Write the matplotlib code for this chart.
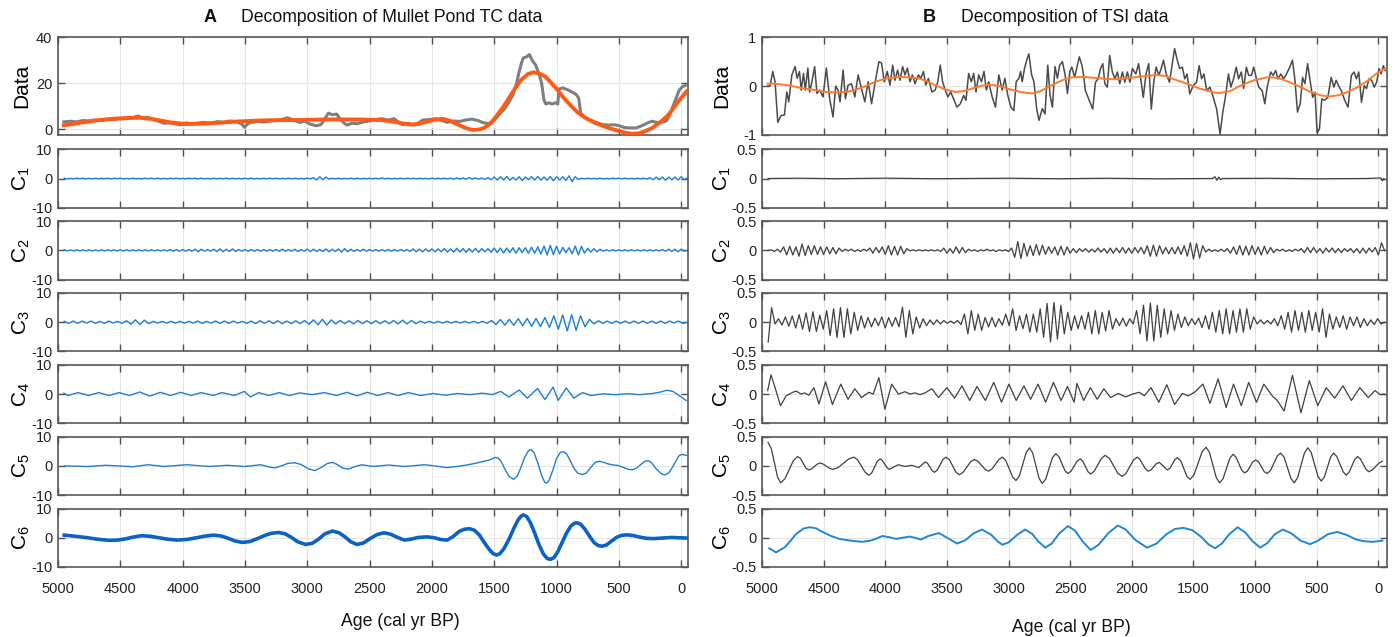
import numpy as np
import matplotlib
matplotlib.use("Agg")
import matplotlib.pyplot as plt

plt.rcParams['font.family'] = ['Liberation Sans', 'DejaVu Sans']
plt.rcParams['mathtext.default'] = 'regular'
plt.rcParams['axes.unicode_minus'] = False

# ---------------- panel A : Mullet Pond TC ----------------
a_data = [(4953, 3.2), (4900, 3.5), (4850, 3.2), (4800, 3.8), (4750, 3.6), (4706, 4.0), (4650, 3.8),
          (4600, 4.3), (4550, 4.2), (4509, 4.5), (4450, 4.6), (4400, 5.0), (4360, 5.8), (4320, 4.8),
          (4280, 5.2), (4245, 4.5), (4200, 3.6), (4147, 2.6), (4100, 2.8), (4050, 2.2), (4015, 2.0),
          (3970, 2.8), (3930, 2.3), (3883, 2.6), (3830, 3.0), (3780, 2.6), (3719, 3.3), (3670, 3.0),
          (3620, 3.6), (3560, 3.2), (3520, 2.0), (3505, 0.9), (3480, 2.2), (3455, 3.0), (3400, 3.4),
          (3350, 3.1), (3291, 3.6), (3240, 3.9), (3200, 4.3), (3160, 5.0), (3110, 4.0), (3061, 3.0),
          (3020, 3.5), (2980, 2.3), (2929, 1.5), (2890, 2.0), (2860, 4.5), (2830, 7.0), (2800, 6.3),
          (2764, 6.6), (2730, 4.0), (2700, 2.5), (2682, 1.8), (2640, 2.6), (2600, 2.4), (2550, 3.2),
          (2501, 3.6), (2450, 4.2), (2402, 4.6), (2350, 4.0), (2304, 4.6), (2270, 3.2), (2238, 2.0),
          (2190, 2.6), (2139, 1.8), (2100, 3.0), (2073, 4.0), (2020, 4.2), (1975, 4.6), (1930, 4.0),
          (1876, 3.0), (1830, 3.6), (1777, 3.4), (1730, 4.0), (1678, 4.4), (1630, 3.8), (1596, 3.0),
          (1547, 2.4), (1510, 3.5), (1481, 5.0), (1450, 7.0), (1415, 9.0), (1380, 12.0), (1349, 15.0),
          (1320, 20.0), (1300, 25.0), (1280, 29.0), (1267, 31.0), (1240, 31.5), (1218, 32.5),
          (1195, 30.0), (1168, 28.0), (1140, 24.0), (1119, 20.0), (1102, 13.0), (1086, 11.0),
          (1060, 11.5), (1037, 11.0), (1010, 11.5), (990, 11.0), (980, 17.5), (950, 18.0), (905, 17.0),
          (870, 16.0), (840, 15.0), (822, 13.5), (806, 7.0), (770, 5.0), (724, 4.0), (680, 2.8),
          (625, 2.0), (580, 1.8), (540, 2.0), (494, 1.5), (460, 0.8), (428, 0.6), (362, 0.6),
          (330, 1.2), (296, 2.0), (260, 3.0), (230, 3.5), (200, 3.0), (165, 3.0), (140, 3.2),
          (115, 3.8), (90, 6.5), (66, 10.0), (40, 13.5), (16, 17.0), (-10, 18.5), (-33, 19.0)]

a_trend = [(4953, 1.7), (4850, 2.6), (4750, 3.4), (4650, 4.1), (4550, 4.6), (4450, 4.9), (4344, 5.0),
           (4250, 4.5), (4180, 3.8), (4100, 3.0), (3982, 2.3), (3850, 2.4), (3719, 2.8), (3550, 3.4),
           (3390, 3.8), (3200, 4.0), (3061, 4.0), (2900, 4.2), (2731, 4.3), (2550, 4.2), (2402, 4.0),
           (2300, 3.2), (2172, 2.0), (2100, 2.4), (2040, 3.3), (1960, 4.3), (1909, 4.5), (1860, 3.8),
           (1810, 2.5), (1740, 0.8), (1700, 0.0), (1662, -0.3), (1620, -0.1), (1580, 0.6), (1530, 2.5),
           (1481, 5.8), (1430, 9.5), (1382, 13.5), (1330, 18.0), (1283, 21.5), (1230, 24.0),
           (1185, 24.8), (1140, 24.3), (1086, 22.8), (1040, 20.0), (987, 16.8), (940, 13.5),
           (889, 10.5), (830, 7.3), (757, 4.6), (690, 2.8), (625, 1.4), (560, 0.2), (494, -0.8),
           (440, -1.6), (395, -2.0), (340, -1.8), (296, -1.0), (240, 0.3), (165, 3.2), (110, 5.8),
           (66, 8.8), (20, 12.3), (-45, 16.5)]

# C1..C3 read every 25 / 35 yr from 4950 to -50 BP
a_c1 = [0.1, -0.1, 0.05, -0.1, 0.1, -0.05, 0.1, -0.1, 0.05, -0.1, 0.1, -0.1, 0.05, -0.05, 0.1, -0.1, 0.1, -0.05, 0.1, -0.1,
        0.05, -0.1, 0.1, -0.1, 0.05, -0.1, 0.1, -0.05, 0.1, -0.1, 0.1, -0.1, 0.05, -0.1, 0.1, -0.05, 0.1, -0.1, 0.05, -0.1,
        0.1, -0.05, 0.1, -0.1, 0.1, -0.1, 0.05, -0.1, 0.1, -0.1, 0.05, -0.05, 0.1, -0.1, 0.1, -0.1, 0.05, -0.1, 0.1, -0.1,
        0.1, -0.1, 0.05, -0.1, 0.1, -0.1, 0.1, -0.05, 0.1, -0.1, 0.05, -0.1, 0.1, -0.1, 0.1, -0.1, 0.05, -0.1, 0.1, -0.1,
        0.3, -0.5, 0.6, -0.4, 0.5, -0.2, 0.1, -0.1, 0.1, -0.1, 0.05, -0.1, 0.1, -0.1, 0.1, -0.1, 0.05, -0.1, 0.1, -0.1,
        0.1, -0.1, 0.2, -0.1, 0.1, -0.1, 0.05, -0.1, 0.1, -0.1, 0.1, -0.05, 0.1, -0.1, 0.1, -0.1, 0.05, -0.1, 0.1, -0.1,
        0.1, -0.1, 0.1, -0.1, 0.1, -0.2, 0.2, -0.2, 0.2, -0.2, 0.3, -0.2, 0.2, -0.2, 0.2, -0.3, 0.3, -0.4, 0.5, -0.5,
        0.6, -0.5, 0.7, -0.6, 0.4, -0.5, 0.6, -0.7, 0.5, -0.4, 0.6, -0.5, 0.7, -0.6, 0.5, -0.6, 0.7, -0.8, 0.6, -0.5,
        0.6, -0.7, 0.9, -1.1, 0.6, -0.3, 0.1, -0.1, 0.1, -0.1, 0.05, -0.1, 0.1, -0.1, 0.05, -0.1, 0.1, -0.05, 0.1, -0.1,
        0.1, -0.1, 0.05, -0.1, 0.1, -0.1, 0.1, -0.2, 0.3, -0.4, 0.5, -0.4, 0.5, -0.6, 0.5, -0.4, 0.5, -0.5, 0.6, -0.4,
        0.2]

a_c2 = [0.2, -0.2, 0.15, -0.2, 0.2, -0.15, 0.2, -0.2, 0.2, -0.2, 0.15, -0.2, 0.2, -0.2, 0.2, -0.15, 0.2, -0.2, 0.2, -0.2,
        0.2, -0.2, 0.2, -0.15, 0.2, -0.2, 0.2, -0.2, 0.2, -0.2, 0.2, -0.2, 0.2, -0.2, 0.3, -0.3, 0.3, -0.3, 0.3, -0.3,
        0.3, -0.3, 0.4, -0.5, 0.4, -0.3, 0.3, -0.3, 0.4, -0.4, 0.5, -0.5, 0.4, -0.4, 0.5, -0.4, 0.3, -0.3, 0.3, -0.3,
        0.3, -0.3, 0.3, -0.3, 0.3, -0.3, 0.3, -0.3, 0.3, -0.3, 0.4, -0.3, 0.3, -0.3, 0.4, -0.4, 0.3, -0.3, 0.4, -0.4,
        0.4, -0.4, 0.3, -0.4, 0.5, -0.5, 0.4, -0.4, 0.5, -0.6, 0.6, -0.5, 0.4, -0.4, 0.3, -0.3, 0.4, -0.3, 0.3, -0.3,
        0.3, -0.3, 0.3, -0.3, 0.3, -0.3, 0.3, -0.3, 0.3, -0.3, 0.3, -0.4, 0.5, -0.5, 0.4, -0.5, 0.5, -0.4, 0.5, -0.5,
        0.5, -0.5, 0.6, -0.6, 0.5, -0.6, 0.7, -0.6, 0.6, -0.7, 0.6, -0.6, 0.7, -0.7, 0.6, -0.5, 0.6, -0.7, 0.8, -0.8,
        0.8, -0.9, 0.8, -0.8, 0.9, -1.0, 0.9, -0.8, 0.9, -1.0, 1.1, -1.0, 1.2, -1.3, 1.5, -1.6, 1.7, -1.5, 1.4, -1.2,
        1.0, -0.8, 0.9, -1.2, 1.5, -1.6, 1.4, -1.0, 0.7, -0.6, 0.6, -0.5, 0.4, -0.3, 0.2, -0.2, 0.2, -0.2, 0.2, -0.2,
        0.2, -0.2, 0.2, -0.2, 0.2, -0.2, 0.2, -0.2, 0.2, -0.2, 0.2, -0.2, 0.3, -0.3, 0.4, -0.4, 0.4, -0.5, 0.4, -0.3,
        0.0]

a_c3 = [0.3, -0.4, 0.4, -0.4, 0.4, -0.3, 0.4, -0.4, 0.3, -0.4, 0.4, -0.3, 0.3, -0.4,
        0.5, -0.7, 0.8, -0.8, 0.7, -0.5, 0.3, -0.3, 0.3, -0.3, 0.3, -0.3, 0.3, -0.3,
        0.3, -0.3, 0.4, -0.4, 0.3, -0.3, 0.4, -0.4, 0.4, -0.4, 0.4, -0.3, 0.3, -0.4,
        0.4, -0.5, 0.5, -0.4, 0.5, -0.5, 0.5, -0.5, 0.4, -0.5, 0.5, -0.5, 0.6, -0.7,
        0.8, -0.9, 1.0, -1.0, 0.8, -0.6, 0.6, -0.5, 0.5, -0.6, 0.6, -0.5, 0.5, -0.5,
        0.5, -0.5, 0.5, -0.5, 0.6, -0.6, 0.7, -0.6, 0.6, -0.5, 0.4, -0.3, 0.3, -0.3,
        0.3, -0.3, 0.3, -0.3, 0.3, -0.3, 0.3, -0.3, 0.3, -0.3, 0.3, -0.4, 0.6, -0.8,
        0.9, -1.0, 1.0, -1.1, 1.2, -1.2, 1.3, -1.4, 1.3, -1.5, 1.6, -1.8, 2.2, -2.4,
        2.5, -3.0, 2.6, -2.8, 2.2, -1.6, 1.0, -0.6, 0.5, -0.4, 0.4, -0.4, 0.4, -0.4,
        0.4, -0.4, 0.4, -0.4, 0.4, -0.4, 0.4, -0.4, 0.4, -0.4, 0.4, -0.3, 0.4, -0.4,
        0.0]

a_c4 = [(4953, 0.3), (4920, -0.5), (4838, 0.5), (4755, -0.5), (4673, 0.5), (4591, -0.5), (4509, 0.5),
        (4427, -0.5), (4344, 0.7), (4262, -0.7), (4180, 0.6), (4098, -0.5), (4015, 0.6), (3933, -0.5),
        (3851, 0.5), (3752, -0.5), (3686, 0.5), (3587, -0.5), (3505, 0.9), (3455, -1.0), (3390, 0.5),
        (3308, -0.5), (3225, 0.5), (3143, -0.5), (3061, 0.4), (2962, -0.2), (2863, 0.5), (2764, -0.5),
        (2682, 0.6), (2600, -0.6), (2518, 0.6), (2435, -0.5), (2353, 0.5), (2271, -0.5), (2188, 0.5),
        (2090, -0.5), (1991, 0.2), (1892, -0.4), (1794, 0.2), (1695, -0.2), (1596, 0.3), (1514, -0.2),
        (1448, 0.9), (1382, -1.0), (1300, 1.4), (1234, -1.4), (1152, 1.9), (1093, -1.9), (1027, 2.4),
        (987, -2.2), (922, 2.1), (862, -1.4), (790, 0.5), (724, -0.5), (625, 0.1), (527, -0.2),
        (428, 0.1), (329, -0.2), (230, 0.2), (165, 0.7), (115, 1.3), (66, 0.9), (16, -0.5), (-40, -2.2)]

a_c5 = [(4950, 0.0), (4762, -0.2), (4618, 0.2), (4510, 0.0), (4402, -0.3), (4276, 0.4), (4149, -0.2),
        (3969, 0.4), (3789, -0.2), (3645, 0.2), (3500, -0.2), (3374, 0.4), (3320, -0.2), (3266, -0.7),
        (3220, -0.2), (3160, 0.8), (3104, 1.1), (3050, 0.5), (2990, -1.0), (2942, -1.6), (2890, -0.6),
        (2840, 0.8), (2798, 1.2), (2760, 0.5), (2715, -0.8), (2671, -1.1), (2620, -0.3), (2563, 0.4),
        (2473, -0.2), (2347, 0.3), (2221, -0.2), (2058, 0.4), (1960, -0.1), (1878, -0.6), (1800, -0.2),
        (1734, 0.2), (1660, 0.8), (1600, 1.4), (1540, 2.0), (1490, 2.9), (1465, 2.6), (1440, 1.2),
        (1410, -1.5), (1380, -3.6), (1345, -4.6), (1315, -3.5), (1285, -0.5), (1255, 3.0), (1225, 5.2),
        (1205, 5.6), (1180, 4.5), (1150, 1.0), (1120, -3.2), (1095, -5.6), (1080, -5.9), (1060, -5.0),
        (1030, -1.5), (1000, 2.5), (970, 4.6), (945, 4.9), (920, 4.2), (890, 1.8), (860, -0.8),
        (830, -2.5), (790, -3.0), (760, -2.4), (720, -0.3), (690, 1.2), (655, 1.6), (620, 1.2),
        (580, 0.6), (540, 0.3), (500, 0.1), (460, -0.6), (420, -1.2), (390, -1.3), (360, -0.8),
        (320, 0.6), (290, 1.6), (265, 1.8), (240, 1.2), (200, -1.0), (160, -2.7), (130, -3.1),
        (100, -2.4), (70, -0.5), (40, 1.8), (15, 3.6), (-10, 3.9), (-43, 3.6)]

a_c6 = [(4950, 0.9), (4880, 0.6), (4820, 0.3), (4762, 0.0), (4700, -0.4), (4640, -0.7), (4582, -0.9),
        (4520, -0.8), (4460, -0.4), (4400, 0.2), (4330, 0.7), (4260, 0.5), (4190, 0.0), (4120, -0.5),
        (4042, -0.8), (3970, -0.6), (3900, -0.1), (3830, 0.5), (3753, 0.9), (3690, 0.6), (3640, -0.1),
        (3580, -1.1), (3519, -1.6), (3460, -1.3), (3400, -0.3), (3340, 0.8), (3290, 1.5), (3231, 1.8),
        (3180, 1.4), (3130, 0.2), (3075, -1.4), (3014, -2.3), (2960, -1.9), (2910, -0.5), (2860, 1.3),
        (2798, 2.3), (2745, 1.7), (2700, 0.4), (2650, -1.4), (2600, -2.3), (2550, -1.8), (2500, -0.4),
        (2440, 1.1), (2383, 1.7), (2330, 1.2), (2275, 0.1), (2221, -0.8), (2170, -0.5), (2110, 0.1),
        (2040, 0.3), (1980, 0.0), (1930, -0.6), (1878, -0.8), (1830, 0.4), (1780, 2.2), (1740, 2.9),
        (1698, 3.1), (1660, 2.6), (1620, 1.0), (1580, -1.6), (1540, -4.0), (1510, -5.4), (1482, -5.9),
        (1455, -5.5), (1420, -3.6), (1380, -0.4), (1345, 3.0), (1310, 6.0), (1285, 7.4), (1265, 7.8),
        (1240, 7.3), (1210, 5.2), (1175, 1.6), (1140, -2.4), (1105, -5.6), (1075, -7.1), (1049, -7.4),
        (1020, -6.8), (990, -4.8), (955, -1.6), (920, 1.6), (885, 4.0), (855, 5.0), (833, 5.1),
        (805, 4.6), (770, 2.8), (735, 0.5), (700, -1.6), (665, -2.7), (634, -2.9), (600, -2.5),
        (560, -1.2), (520, 0.1), (480, 0.8), (436, 1.0), (390, 0.8), (340, 0.3), (280, -0.2),
        (220, -0.3), (150, -0.1), (76, 0.1), (20, 0.0), (-43, -0.1)]

# ---------------- panel B : TSI ----------------
b_data = [(4954, 0.0), (4935, 0.0), (4913, 0.30), (4894, 0.09), (4872, -0.74), (4845, -0.60), (4818, -0.59),
          (4799, -0.12), (4783, -0.32), (4758, 0.23), (4731, 0.40), (4715, 0.16), (4696, 0.30), (4682, -0.08),
          (4663, 0.26), (4649, -0.08), (4628, 0.37), (4614, -0.12), (4595, 0.09), (4573, 0.40), (4554, -0.15),
          (4533, -0.08), (4505, -0.22), (4478, 0.37), (4451, -0.26), (4424, -0.63), (4402, 0.0), (4383, -0.08),
          (4367, -0.32), (4342, 0.33), (4323, -0.26), (4302, 0.02), (4274, 0.05), (4247, -0.22), (4220, 0.23),
          (4193, -0.05), (4166, -0.32), (4139, 0.09), (4111, -0.36), (4084, 0.05), (4052, 0.50), (4030, 0.47),
          (4008, 0.09), (3984, 0.30), (3962, 0.02), (3940, 0.43), (3921, 0.12), (3900, 0.33), (3881, 0.12),
          (3859, 0.40), (3840, 0.23), (3821, 0.37), (3799, 0.09), (3780, 0.23), (3758, 0.05), (3731, 0.23),
          (3712, 0.16), (3690, 0.30), (3671, 0.02), (3650, 0.16), (3622, -0.12), (3595, -0.08), (3574, 0.09),
          (3554, 0.43), (3535, 0.09), (3514, -0.08), (3492, -0.22), (3470, -0.12), (3446, -0.26), (3419, -0.43),
          (3391, -0.36), (3364, -0.19), (3345, -0.29), (3324, 0.26), (3302, 0.09), (3283, 0.26), (3264, -0.12),
          (3242, 0.23), (3220, 0.09), (3199, 0.30), (3180, -0.08), (3161, 0.09), (3133, -0.22), (3106, -0.43),
          (3079, 0.23), (3052, -0.08), (3030, 0.16), (3006, -0.19), (2981, -0.43), (2957, -0.50), (2938, 0.09),
          (2916, 0.16), (2902, 0.30), (2889, 0.09), (2870, 0.37), (2848, 0.57), (2835, 0.66), (2813, 0.23),
          (2794, 0.09), (2772, -0.46), (2753, -0.70), (2726, -0.46), (2704, -0.57), (2682, 0.43), (2663, -0.19),
          (2644, -0.43), (2623, 0.40), (2604, 0.16), (2585, 0.43), (2563, 0.50), (2541, 0.23), (2522, -0.15),
          (2503, 0.30), (2486, 0.39), (2464, 0.18), (2445, 0.39), (2426, 0.60), (2404, 0.42), (2391, 0.22),
          (2377, -0.09), (2350, -0.26), (2317, -0.47), (2295, 0.08), (2273, 0.15), (2254, 0.36), (2235, 0.46),
          (2219, 0.05), (2199, -0.02), (2180, 0.63), (2158, 0.29), (2137, 0.15), (2117, 0.29), (2098, 0.05),
          (2076, 0.29), (2057, 0.08), (2036, 0.29), (2016, 0.08), (1995, 0.36), (1967, 0.25), (1945, 0.46),
          (1926, 0.12), (1907, -0.23), (1885, 0.25), (1863, 0.46), (1842, -0.47), (1822, 0.08), (1803, 0.39),
          (1781, 0.22), (1762, 0.36), (1743, 0.53), (1721, 0.25), (1694, 0.08), (1672, 0.46), (1653, 0.77),
          (1634, 0.56), (1612, 0.36), (1590, 0.39), (1571, 0.15), (1552, 0.25), (1530, -0.16), (1503, 0.01),
          (1475, 0.08), (1454, 0.42), (1434, 0.15), (1415, 0.25), (1393, -0.09), (1366, -0.02), (1339, -0.23),
          (1312, -0.47), (1284, -0.98), (1262, -0.53), (1243, -0.26), (1216, 0.25), (1197, -0.02), (1175, 0.15),
          (1153, 0.39), (1134, 0.15), (1112, 0.29), (1093, -0.05), (1071, 0.39), (1052, 0.22), (1030, 0.22),
          (1011, 0.39), (989, 0.15), (970, -0.02), (943, -0.09), (921, -0.36), (902, -0.02), (874, 0.29),
          (853, 0.22), (833, 0.32), (814, 0.15), (792, 0.25), (770, 0.15), (751, 0.22), (724, 0.36),
          (697, 0.53), (678, 0.15), (656, -0.53), (634, -0.36), (615, 0.18), (596, 0.05), (574, 0.46),
          (552, 0.08), (533, -0.23), (514, -0.12), (497, -0.95), (478, -0.88), (459, -0.26), (437, -0.29),
          (410, -0.23), (383, 0.18), (361, -0.02), (342, 0.12), (323, 0.01), (301, -0.09), (273, -0.29),
          (246, -0.43), (219, 0.22), (197, 0.29), (178, 0.15), (159, 0.29), (137, -0.33), (115, 0.01),
          (96, -0.05), (77, 0.15), (55, 0.12), (33, -0.02), (14, 0.08), (-5, 0.36), (-22, 0.25),
          (-41, 0.42), (-54, 0.32)]

b_trend = [(4954, 0.05), (4900, 0.05), (4791, 0.02), (4700, -0.03), (4573, -0.08), (4480, -0.12), (4383, -0.13),
           (4300, -0.11), (4247, -0.08), (4160, 0.0), (4084, 0.09), (4000, 0.15), (3894, 0.19), (3800, 0.18),
           (3731, 0.16), (3660, 0.10), (3595, 0.02), (3510, -0.07), (3432, -0.12), (3360, -0.10), (3296, -0.05),
           (3220, 0.01), (3147, 0.03), (3070, 0.0), (2997, -0.06), (2900, -0.12), (2807, -0.15), (2740, -0.10),
           (2671, -0.01), (2600, 0.08), (2536, 0.15), (2486, 0.18), (2400, 0.19), (2300, 0.17), (2213, 0.15),
           (2140, 0.14), (2076, 0.15), (1950, 0.19), (1803, 0.23), (1730, 0.21), (1667, 0.15), (1600, 0.09),
           (1530, 0.03), (1460, -0.04), (1393, -0.09), (1330, -0.13), (1284, -0.14), (1200, -0.10),
           (1120, 0.01), (1010, 0.12), (902, 0.18), (850, 0.18), (792, 0.15), (710, 0.07), (629, -0.02),
           (550, -0.12), (465, -0.19), (400, -0.21), (328, -0.19), (260, -0.13), (191, -0.05), (130, 0.04),
           (82, 0.12), (20, 0.25), (-54, 0.36)]

b_c1 = [(4950, 0.0), (4700, 0.005), (4400, -0.004), (4000, 0.006), (3600, -0.004), (3000, 0.005),
        (2600, -0.004), (2200, 0.004), (1800, -0.005), (1345, 0.0), (1325, 0.03), (1310, -0.03),
        (1295, 0.025), (1280, -0.02), (1265, 0.0), (900, 0.004), (500, -0.005), (100, 0.0),
        (-20, 0.01), (-33, -0.04), (-45, 0.0)]

# C2, C3 read every 25 / ~28 yr from 4950 to -50 BP
b_c2 = [0.0, 0.01, -0.02, 0.02, -0.03, 0.06, -0.08, 0.07, -0.08, 0.06, -0.1, 0.11, -0.09, 0.08, -0.07, 0.08, -0.07, 0.06, -0.07, 0.06,
        -0.06, 0.05, -0.06, 0.04, -0.02, 0.02, -0.01, 0.02, -0.02, 0.01, -0.02, 0.02, -0.01, 0.04, -0.05, 0.05, -0.04, 0.06, -0.07, 0.08,
        -0.08, 0.07, -0.08, 0.07, -0.06, 0.03, -0.01, 0.01, -0.01, 0.01, -0.01, 0.01, -0.01, 0.01, -0.01, 0.01, -0.02, 0.04, -0.05, 0.03,
        -0.05, 0.06, -0.05, 0.05, -0.04, 0.02, -0.01, 0.01, -0.02, 0.01, -0.01, 0.02, -0.01, 0.01, -0.02, 0.01, -0.01, 0.01, -0.02, 0.04,
        -0.12, 0.15, -0.14, 0.12, -0.1, 0.08, -0.09, 0.1, -0.08, 0.09, -0.07, 0.06, -0.05, 0.06, -0.08, 0.07, -0.08, 0.06, -0.05, 0.03,
        -0.04, 0.03, -0.02, 0.03, -0.03, 0.02, -0.03, 0.04, -0.03, 0.03, -0.05, 0.04, -0.05, 0.04, -0.04, 0.05, -0.05, 0.04, -0.05, 0.05,
        -0.04, 0.05, -0.06, 0.08, -0.1, 0.09, -0.1, 0.08, -0.06, 0.05, -0.06, 0.05, -0.06, 0.06, -0.07, 0.08, -0.1, 0.13, -0.15, 0.12,
        -0.13, 0.08, -0.03, 0.02, -0.02, 0.01, -0.02, 0.02, -0.02, 0.03, -0.05, 0.06, -0.07, 0.08, -0.08, 0.07, -0.08, 0.08, -0.07, 0.06,
        -0.08, 0.07, -0.06, 0.05, -0.04, 0.02, -0.01, 0.02, -0.02, 0.01, -0.02, 0.02, -0.01, 0.03, -0.04, 0.05, -0.04, 0.05, -0.04, 0.03,
        -0.05, 0.04, -0.03, 0.04, -0.04, 0.03, -0.04, 0.03, -0.02, 0.03, -0.04, 0.03, -0.05, 0.04, -0.05, 0.04, -0.03, 0.05, -0.08, 0.13,
        0.0]

b_c3 = [-0.34, 0.25, -0.03, 0.06, -0.05, 0.09, -0.07, 0.11, -0.1, 0.13, -0.12, 0.16, -0.16, 0.18, -0.16, 0.12, -0.12, 0.2,
        -0.23, 0.23, -0.26, 0.25, -0.26, 0.23, -0.2, 0.17, -0.14, 0.11, -0.1, 0.08, -0.08, 0.07, -0.06, 0.09, -0.1, 0.08,
        -0.07, 0.08, -0.08, 0.26, -0.26, 0.2, -0.2, 0.09, -0.1, 0.06, -0.06, 0.04, -0.04, 0.04, -0.03, 0.03, -0.02, 0.02,
        -0.02, 0.03, -0.04, 0.14, -0.2, 0.2, -0.14, 0.14, -0.14, 0.08, -0.08, 0.08, -0.08, 0.06, -0.05, 0.14, -0.06, 0.23,
        -0.14, 0.11, -0.11, 0.14, -0.17, 0.14, -0.17, 0.23, -0.26, 0.32, -0.34, 0.34, -0.29, 0.29, -0.2, 0.17, -0.14, 0.11,
        -0.11, 0.11, -0.12, 0.17, -0.2, 0.2, -0.2, 0.17, -0.15, 0.2, -0.12, 0.06, -0.06, 0.07, -0.07, 0.06, -0.03, 0.2,
        -0.2, 0.29, -0.32, 0.33, -0.32, 0.29, -0.26, 0.23, -0.2, 0.2, -0.14, 0.14, -0.09, 0.09, -0.06, 0.06, -0.04, 0.07,
        -0.09, 0.11, -0.12, 0.17, -0.17, 0.2, -0.2, 0.23, -0.2, 0.2, -0.17, 0.23, -0.17, 0.23, -0.12, 0.09, -0.03, 0.04,
        -0.03, 0.03, -0.03, 0.06, -0.06, 0.11, -0.12, 0.17, -0.17, 0.2, -0.14, 0.17, -0.17, 0.2, -0.14, 0.17, -0.17, 0.23,
        -0.26, 0.14, -0.12, 0.09, -0.09, 0.11, -0.12, 0.09, -0.06, 0.09, -0.09, 0.06, -0.06, 0.04, -0.04, 0.06, -0.03, 0.0]

b_c4 = [(4954, 0.06), (4927, 0.33), (4894, 0.11), (4850, -0.20), (4804, -0.03), (4750, 0.03), (4723, 0.05),
        (4682, 0.0), (4655, 0.02), (4620, -0.02), (4579, 0.11), (4538, -0.17), (4484, 0.21), (4429, -0.18),
        (4361, 0.17), (4302, -0.09), (4247, 0.09), (4193, -0.06), (4133, 0.03), (4098, 0.0), (4052, 0.28),
        (4003, -0.26), (3948, 0.17), (3894, 0.0), (3840, 0.04), (3799, 0.0), (3758, 0.02), (3718, -0.01),
        (3677, 0.02), (3622, 0.09), (3568, -0.06), (3500, 0.11), (3438, -0.07), (3378, 0.14), (3315, -0.11),
        (3256, 0.13), (3188, -0.11), (3120, 0.20), (3057, -0.14), (2997, 0.17), (2938, -0.11), (2875, 0.14),
        (2821, -0.09), (2761, 0.17), (2699, -0.14), (2636, 0.20), (2574, -0.11), (2522, 0.13), (2468, -0.14),
        (2445, 0.18), (2391, -0.11), (2336, 0.11), (2281, -0.09), (2227, 0.09), (2172, -0.06), (2109, 0.01),
        (2049, -0.05), (1995, 0.0), (1940, 0.03), (1899, -0.03), (1844, 0.11), (1781, -0.14), (1716, 0.16),
        (1653, -0.18), (1590, 0.01), (1544, -0.03), (1492, 0.03), (1423, 0.17), (1366, -0.16), (1300, 0.26),
        (1235, -0.23), (1175, 0.17), (1112, -0.20), (1052, 0.20), (989, -0.14), (929, 0.17), (861, -0.03),
        (820, -0.11), (765, -0.29), (697, 0.32), (628, -0.32), (560, 0.23), (492, -0.20), (423, 0.11),
        (355, -0.07), (287, 0.14), (219, -0.11), (150, 0.11), (82, -0.06), (27, 0.06), (-14, -0.01), (-50, 0.0)]

b_c5 = [(4951, 0.40), (4925, 0.30), (4874, -0.19), (4848, -0.29), (4814, -0.22), (4746, 0.09), (4712, 0.16),
        (4689, 0.13), (4643, -0.04), (4620, -0.07), (4597, -0.05), (4552, 0.03), (4529, 0.05), (4503, 0.03),
        (4452, -0.04), (4426, -0.06), (4383, -0.03), (4296, 0.12), (4253, 0.15), (4223, 0.10), (4163, -0.11),
        (4133, -0.16), (4110, -0.12), (4064, 0.08), (4041, 0.12), (4023, 0.09), (3986, -0.03), (3968, -0.06),
        (3895, 0.02), (3840, -0.01), (3785, 0.01), (3730, -0.03), (3675, 0.07), (3656, 0.04), (3620, -0.08),
        (3601, -0.11), (3578, -0.07), (3532, 0.11), (3509, 0.15), (3481, 0.11), (3426, -0.11), (3399, -0.15),
        (3369, -0.11), (3308, 0.07), (3278, 0.11), (3249, 0.08), (3190, -0.06), (3161, -0.09), (3133, -0.05),
        (3078, 0.11), (3050, 0.15), (3022, 0.09), (2967, -0.19), (2940, -0.25), (2912, -0.17), (2857, 0.23),
        (2830, 0.31), (2804, 0.22), (2753, -0.21), (2727, -0.30), (2699, -0.23), (2644, 0.14), (2617, 0.21),
        (2592, 0.16), (2543, -0.08), (2518, -0.13), (2493, -0.09), (2444, 0.08), (2419, 0.12), (2398, 0.08),
        (2355, -0.10), (2334, -0.14), (2305, -0.09), (2246, 0.13), (2217, 0.18), (2182, 0.13), (2113, -0.13),
        (2078, -0.18), (2048, -0.13), (1987, 0.10), (1956, 0.15), (1934, 0.11), (1890, -0.05), (1868, -0.09),
        (1845, -0.07), (1800, 0.04), (1777, 0.06), (1711, -0.07), (1691, -0.04), (1650, 0.11), (1630, 0.14),
        (1604, 0.09), (1553, -0.18), (1527, -0.23), (1495, -0.15), (1430, 0.24), (1398, 0.32), (1370, 0.23),
        (1315, -0.20), (1288, -0.29), (1260, -0.22), (1205, 0.13), (1178, 0.20), (1155, 0.15), (1109, -0.07),
        (1086, -0.12), (1063, -0.09), (1018, 0.07), (995, 0.10), (972, 0.07), (926, -0.10), (903, -0.13),
        (875, -0.08), (820, 0.17), (793, 0.22), (765, 0.15), (710, -0.21), (683, -0.29), (655, -0.20),
        (600, 0.22), (573, 0.31), (545, 0.23), (490, -0.18), (463, -0.26), (438, -0.19), (388, 0.15),
        (363, 0.22), (337, 0.16), (286, -0.10), (261, -0.16), (238, -0.11), (192, 0.11), (169, 0.16),
        (146, 0.12), (100, -0.06), (77, -0.10), (50, -0.07), (-6, 0.05), (-33, 0.08)]

b_c6 = [(4941, -0.18), (4886, -0.25), (4813, -0.16), (4760, -0.03), (4721, 0.07), (4660, 0.16), (4611, 0.18),
        (4560, 0.16), (4519, 0.11), (4440, 0.03), (4372, -0.02), (4280, -0.05), (4188, -0.07), (4120, -0.05),
        (4078, -0.02), (4023, 0.03), (3970, 0.01), (3913, -0.02), (3860, 0.0), (3803, 0.02), (3760, 0.0),
        (3711, -0.03), (3650, 0.03), (3565, 0.08), (3490, -0.01), (3417, -0.10), (3350, -0.04), (3280, 0.08),
        (3215, 0.14), (3140, 0.05), (3090, -0.06), (3050, -0.12), (3000, -0.08), (2930, 0.05), (2866, 0.14),
        (2810, 0.07), (2760, -0.06), (2702, -0.17), (2650, -0.10), (2590, 0.07), (2518, 0.20), (2460, 0.12),
        (2400, -0.06), (2334, -0.21), (2270, -0.12), (2190, 0.08), (2114, 0.21), (2050, 0.14), (1970, -0.04),
        (1876, -0.17), (1800, -0.10), (1720, 0.06), (1650, 0.15), (1582, 0.17), (1510, 0.13), (1440, 0.02),
        (1380, -0.11), (1325, -0.18), (1270, -0.10), (1210, 0.06), (1142, 0.18), (1080, 0.09), (1020, -0.06),
        (958, -0.17), (900, -0.09), (840, 0.06), (775, 0.14), (710, 0.08), (630, -0.05), (554, -0.11),
        (490, -0.05), (410, 0.06), (334, 0.10), (260, 0.05), (180, -0.03), (114, -0.06), (50, -0.07), (-33, -0.05)]

x_ticks = [5000, 4500, 4000, 3500, 3000, 2500, 2000, 1500, 1000, 500, 0]

# ---------------- layout ----------------
W, H = 1395, 637
fig = plt.figure(figsize=(W / 100, H / 100), dpi=100)


def add_ax(left, right, top, bottom):
    return fig.add_axes([left / W, 1 - bottom / H, (right - left) / W, (bottom - top) / H])


rows = [(37.3, 135.0)] + [(149.3 + k * 71.85, 149.3 + k * 71.85 + 58.4) for k in range(6)]
labels = ['Data'] + [r'C$_{%d}$' % k for k in range(1, 7)]


def style(ax, xlim, ylim, yticks, yticklabels, label, labx, last):
    ax.set_xlim(xlim)
    ax.set_ylim(ylim)
    ax.set_xticks(x_ticks)
    ax.set_yticks(yticks)
    ax.set_yticklabels(yticklabels)
    ax.grid(True, color='#e4e4e4', lw=0.8)
    ax.set_axisbelow(True)
    ax.tick_params(direction='in', top=True, right=True, length=5, width=1.0,
                   color='#505050', labelcolor='#222222', labelsize=10.5)
    ax.tick_params(axis='x', pad=11)
    ax.tick_params(axis='y', pad=4)
    for s in ax.spines.values():
        s.set_color('#595959')
        s.set_linewidth(1.2)
    if last:
        ax.set_xticklabels([str(t) for t in x_ticks])
    else:
        ax.set_xticklabels([])
    ax.set_ylabel(label, fontsize=15, va='center')
    ax.yaxis.set_label_coords(labx, 0.5)


def xy(pairs):
    return [p[0] for p in pairs], [p[1] for p in pairs]


# panel A
a_series = [None, (np.linspace(4950, -50, len(a_c1)), a_c1), (np.linspace(4950, -50, len(a_c2)), a_c2),
            (np.linspace(4950, -50, len(a_c3)), a_c3), xy(a_c4), xy(a_c5), xy(a_c6)]
for i, (top, bot) in enumerate(rows):
    ax = add_ax(58, 688, top, bot)
    if i == 0:
        ax.plot(*xy(a_data), color='#7f7f7f', lw=2.2, zorder=2)
        ax.plot(*xy(a_trend), color='#ff5a14', lw=2.8, zorder=3)
        style(ax, (5000, -55), (-2.5, 40), [0, 20, 40], ['0', '20', '40'], labels[i], -0.058, False)
    else:
        c = '#0b62c4' if i == 6 else '#1f7fd4'
        lw = 2.6 if i == 6 else 1.0
        ax.plot(*a_series[i], color=c, lw=lw)
        style(ax, (5000, -55), (-10, 10), [-10, 0, 10], ['-10', '0', '10'], labels[i], -0.058, i == 6)

# panel B
b_series = [None, xy(b_c1), (np.linspace(4950, -50, len(b_c2)), b_c2),
            (np.linspace(4950, -50, len(b_c3)), b_c3), xy(b_c4), xy(b_c5), xy(b_c6)]
for i, (top, bot) in enumerate(rows):
    ax = add_ax(762, 1387, top, bot)
    if i == 0:
        ax.plot(*xy(b_data), color='#4a4a4a', lw=1.1, zorder=2)
        ax.plot(*xy(b_trend), color='#ff7a2a', lw=1.4, zorder=3)
        style(ax, (5000, -70), (-1, 1), [-1, 0, 1], ['-1', '0', '1'], labels[i], -0.064, False)
    else:
        c = '#1f86d8' if i == 6 else '#404040'
        lw = 1.4 if i == 6 else 0.9
        ax.plot(*b_series[i], color=c, lw=lw)
        style(ax, (5000, -70), (-0.5, 0.5), [-0.5, 0, 0.5], ['-0.5', '0', '0.5'], labels[i], -0.064, i == 6)

# titles and x labels
fig.text(204 / W, 1 - 18 / H, 'A', fontsize=13, weight='bold', va='center', ha='left', color='#111111')
fig.text(241 / W, 1 - 18 / H, 'Decomposition of Mullet Pond TC data', fontsize=12.7, va='center', ha='left', color='#111111')
fig.text(923 / W, 1 - 18 / H, 'B', fontsize=13, weight='bold', va='center', ha='left', color='#111111')
fig.text(961 / W, 1 - 18 / H, 'Decomposition of TSI data', fontsize=12.7, va='center', ha='left', color='#111111')
fig.text(400 / W, 1 - 622 / H, 'Age (cal yr BP)', fontsize=12.7, va='center', ha='center', color='#111111')
fig.text(1071 / W, 1 - 627 / H, 'Age (cal yr BP)', fontsize=12.7, va='center', ha='center', color='#111111')

fig.savefig('out.png', dpi=100)
